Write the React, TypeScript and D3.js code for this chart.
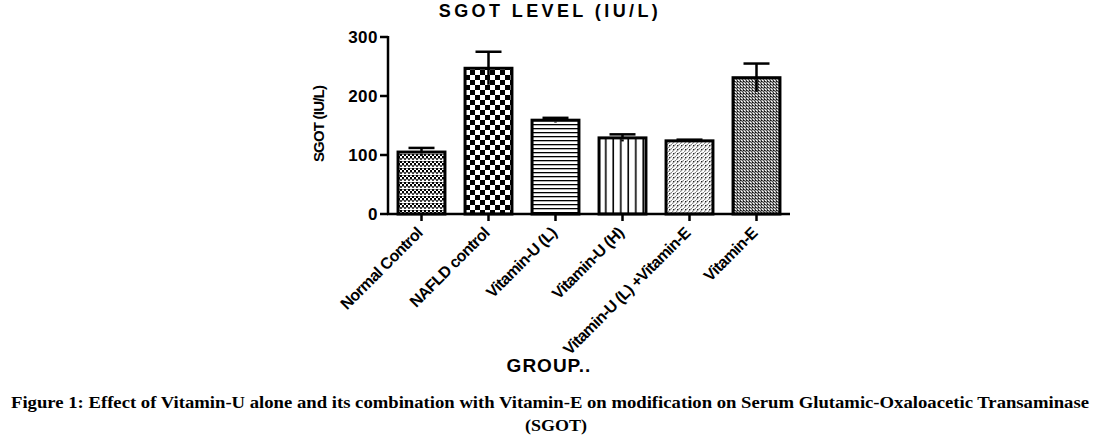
import React from "react";
import * as d3 from "d3";

const categories = ["Normal Control", "NAFLD control", "Vitamin-U (L)", "Vitamin-U (H)", "Vitamin-U (L) +Vitamin-E", "Vitamin-E"];
const means = [105, 247, 159, 129, 124, 231];
const sems = [7, 28, 4, 6, 2, 24];
const yTicks = [0, 100, 200, 300];
const patternIds = ["pNormal", "pNafld", "pVitL", "pVitH", "pCombo", "pVitE"];

const W = 1097, H = 437;
const left = 388, right = 790, top = 37, bottom = 214;

export default function App() {
  const x = d3.scaleBand<string>().domain(categories).range([left, right]).paddingInner(0.3).paddingOuter(0.15);
  const y = d3.scaleLinear().domain([0, 300]).range([bottom, top]);
  const bw = x.bandwidth();
  const font = "Arial, 'Liberation Sans', sans-serif";
  return (
    <svg width={W} height={H} style={{ position: "absolute", left: 0, top: 0, background: "#fff" }}>
      <defs>
        <pattern id="pNormal" width="4" height="7" patternUnits="userSpaceOnUse">
          <rect width="4" height="7" fill="#fff" />
          <rect x="0" y="0" width="2" height="2" fill="#000" />
          <rect x="2" y="2" width="2" height="2" fill="#000" />
          <rect x="0" y="4" width="2" height="2" fill="#444" />
          <rect x="2" y="0" width="2" height="1" fill="#888" />
          <rect x="2" y="4" width="2" height="1" fill="#888" />
        </pattern>
        <pattern id="pNafld" width="10" height="10" patternUnits="userSpaceOnUse">
          <rect width="10" height="10" fill="#fff" />
          <rect x="0" y="0" width="5" height="5" fill="#000" />
          <rect x="5" y="5" width="5" height="5" fill="#000" />
        </pattern>
        <pattern id="pVitL" width="4" height="4" patternUnits="userSpaceOnUse">
          <rect width="4" height="4" fill="#fff" />
          <rect x="0" y="0" width="4" height="1.3" fill="#000" />
        </pattern>
        <pattern id="pVitH" width="7.5" height="4" patternUnits="userSpaceOnUse">
          <rect width="7.5" height="4" fill="#fff" />
          <rect x="5" y="0" width="1.6" height="4" fill="#000" />
        </pattern>
        <pattern id="pCombo" width="4" height="4" patternUnits="userSpaceOnUse">
          <rect width="4" height="4" fill="#fff" />
          <path d="M0,4 L4,0" stroke="#888" strokeWidth="1.1" />
          <rect x="1" y="1" width="1" height="1" fill="#222" />
        </pattern>
        <pattern id="pVitE" width="3" height="3" patternUnits="userSpaceOnUse">
          <rect width="3" height="3" fill="#fff" />
          <path d="M0,0 L3,3" stroke="#444" strokeWidth="1.3" />
          <rect x="2" y="0" width="1" height="1" fill="#111" />
        </pattern>
      </defs>

      <text x={550} y={17} textAnchor="middle" fontFamily={font} fontWeight="bold" fontSize={18} letterSpacing={3.4}>SGOT LEVEL (IU/L)</text>

      {categories.map((c, i) => {
        const bx = x(c)!;
        const cx = bx + bw / 2;
        const yt = y(means[i]);
        const yh = y(means[i] + sems[i]);
        const yl = y(means[i] - sems[i]);
        return (
          <g key={c}>
            <line x1={cx} x2={cx} y1={yh} y2={yl} stroke="#000" strokeWidth={2.5} />
            <line x1={cx - 13} x2={cx + 13} y1={yh} y2={yh} stroke="#000" strokeWidth={2.5} />
            <line x1={cx - 13} x2={cx + 13} y1={yl} y2={yl} stroke="#000" strokeWidth={2.5} />
            <rect x={bx} y={yt} width={bw} height={bottom - yt} fill={`url(#${patternIds[i]})`} stroke="#000" strokeWidth={3} />
            <line x1={cx} x2={cx} y1={yt + 1.5} y2={yl} stroke="#000" strokeWidth={2.5} />
          </g>
        );
      })}

      <line x1={left} x2={left} y1={top - 1} y2={bottom + 1} stroke="#000" strokeWidth={2.5} />
      <line x1={left - 1} x2={right} y1={bottom} y2={bottom} stroke="#000" strokeWidth={2.5} />
      {yTicks.map(t => (
        <g key={t}>
          <line x1={left - 8} x2={left} y1={y(t)} y2={y(t)} stroke="#000" strokeWidth={2.5} />
          <text x={left - 10} y={y(t) + 6} textAnchor="end" fontFamily={font} fontWeight="bold" fontSize={17} letterSpacing={0.5}>{t}</text>
        </g>
      ))}
      {categories.map(c => {
        const cx = x(c)! + bw / 2;
        return (
          <g key={c}>
            <line x1={cx} x2={cx} y1={bottom} y2={bottom + 7} stroke="#000" strokeWidth={2.5} />
            <text transform={`translate(${cx + 2},${bottom + 20}) rotate(-45)`} textAnchor="end" fontFamily={font} fontWeight="bold" fontSize={16} letterSpacing={-0.6}>{c}</text>
          </g>
        );
      })}

      <text transform={`translate(324,124) rotate(-90)`} textAnchor="middle" fontFamily={font} fontWeight="bold" fontSize={15} letterSpacing={-0.8}>SGOT (IU/L)</text>
      <text x={549} y={372} textAnchor="middle" fontFamily={font} fontWeight="bold" fontSize={19} letterSpacing={1}>GROUP..</text>

      <text x={550} y={408} textAnchor="middle" fontFamily="'Liberation Serif', serif" fontWeight="bold" fontSize={17} textLength={1078} lengthAdjust="spacingAndGlyphs">Figure 1: Effect of Vitamin-U alone and its combination with Vitamin-E on modification on Serum Glutamic-Oxaloacetic Transaminase</text>
      <text x={556} y={431} textAnchor="middle" fontFamily="'Liberation Serif', serif" fontWeight="bold" fontSize={17} textLength={62} lengthAdjust="spacingAndGlyphs">(SGOT)</text>
    </svg>
  );
}
